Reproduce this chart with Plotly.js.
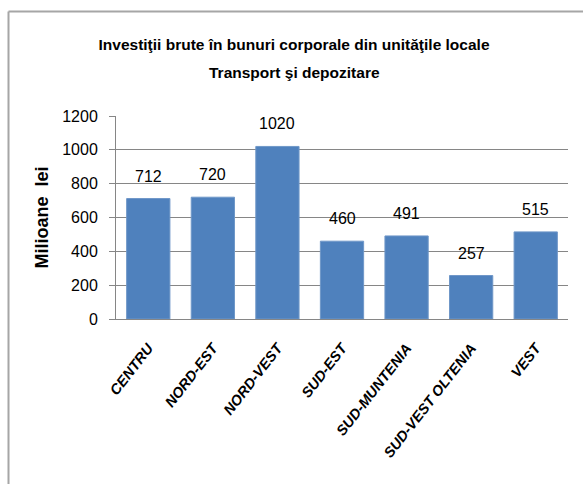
<!DOCTYPE html>
<html>
<head>
<meta charset="utf-8">
<script src="https://cdn.plot.ly/plotly-3.0.1.min.js"></script>
<style>html,body{margin:0;padding:0;background:#fff;}#chart{width:583px;height:484px;}</style>
</head>
<body>
<div id="chart"></div>
<script>
const categories = ["CENTRU", "NORD-EST", "NORD-VEST", "SUD-EST", "SUD-MUNTENIA", "SUD-VEST OLTENIA", "VEST"];
const values = [712, 720, 1020, 460, 491, 257, 515];
const yTicks = [0, 200, 400, 600, 800, 1000, 1200];
const titleLines = ["Investiţii brute în bunuri corporale din unităţile locale", "Transport şi depozitare"];

const sans = "Liberation Sans, Arial, sans-serif";

const L = 116, R = 15, T = 116, B = 165, W = 583, H = 484;
const pw = W - L - R, ph = H - T - B;
const px = x => (x - L) / pw;
const py = y => (H - B - y) / ph;

const trace = {
  type: "bar",
  x: categories,
  y: values,
  marker: {color: "#4F81BD", line: {color: "#6f97c8", width: 1}},
  width: 0.67,
  hoverinfo: "x+y"
};

const annotations = categories.map((c, i) => ({
  x: c, y: values[i], xref: "x", yref: "y",
  text: String(values[i]), showarrow: false,
  yanchor: "bottom", yshift: 12,
  font: {family: sans, size: 16, color: "#000"}
}));
annotations.push({
  xref: "paper", yref: "paper", x: px(294), y: py(73),
  xanchor: "center", yanchor: "middle", showarrow: false,
  text: "<b>" + titleLines[1] + "</b>",
  font: {family: sans, size: 15.5, color: "#000"}
});

const layout = {
  width: W, height: H,
  margin: {l: L, r: R, t: T, b: B},
  paper_bgcolor: "#fff", plot_bgcolor: "#fff",
  showlegend: false,
  title: {
    text: "<b>" + titleLines[0] + "</b>",
    x: 294 / W, xanchor: "center", xref: "container",
    y: 1 - 45 / H, yanchor: "middle", yref: "container",
    font: {family: sans, size: 15.5, color: "#000"}
  },
  xaxis: {
    type: "category",
    tickangle: -52,
    tickfont: {family: sans, size: 14.5, color: "#000", weight: "bold", style: "italic"},
    showline: true, linecolor: "#868686", linewidth: 1,
    ticks: "", ticklabelstandoff: 14,
    showgrid: false
  },
  yaxis: {
    range: [0, 1200],
    tickvals: yTicks,
    ticktext: yTicks.map(String),
    tickfont: {family: sans, size: 16, color: "#000"},
    showline: true, linecolor: "#868686", linewidth: 1,
    ticks: "outside", ticklen: 6, tickcolor: "#868686",
    ticklabelstandoff: 8,
    showgrid: true, gridcolor: "#868686", gridwidth: 1,
    zeroline: false,
    title: {text: "<b>Milioane  lei</b>", font: {family: sans, size: 18, color: "#000"}, standoff: 8}
  },
  annotations: annotations,
  shapes: [
    {type: "line", xref: "paper", yref: "paper", x0: px(8.5), x1: px(8.5), y0: py(11.5), y1: py(484), line: {color: "#a6a6a6", width: 2}},
    {type: "line", xref: "paper", yref: "paper", x0: px(8.5), x1: px(583), y0: py(11.5), y1: py(11.5), line: {color: "#a6a6a6", width: 2}}
  ]
};

Plotly.newPlot("chart", [trace], layout, {displayModeBar: false, staticPlot: true});
</script>
</body>
</html>
